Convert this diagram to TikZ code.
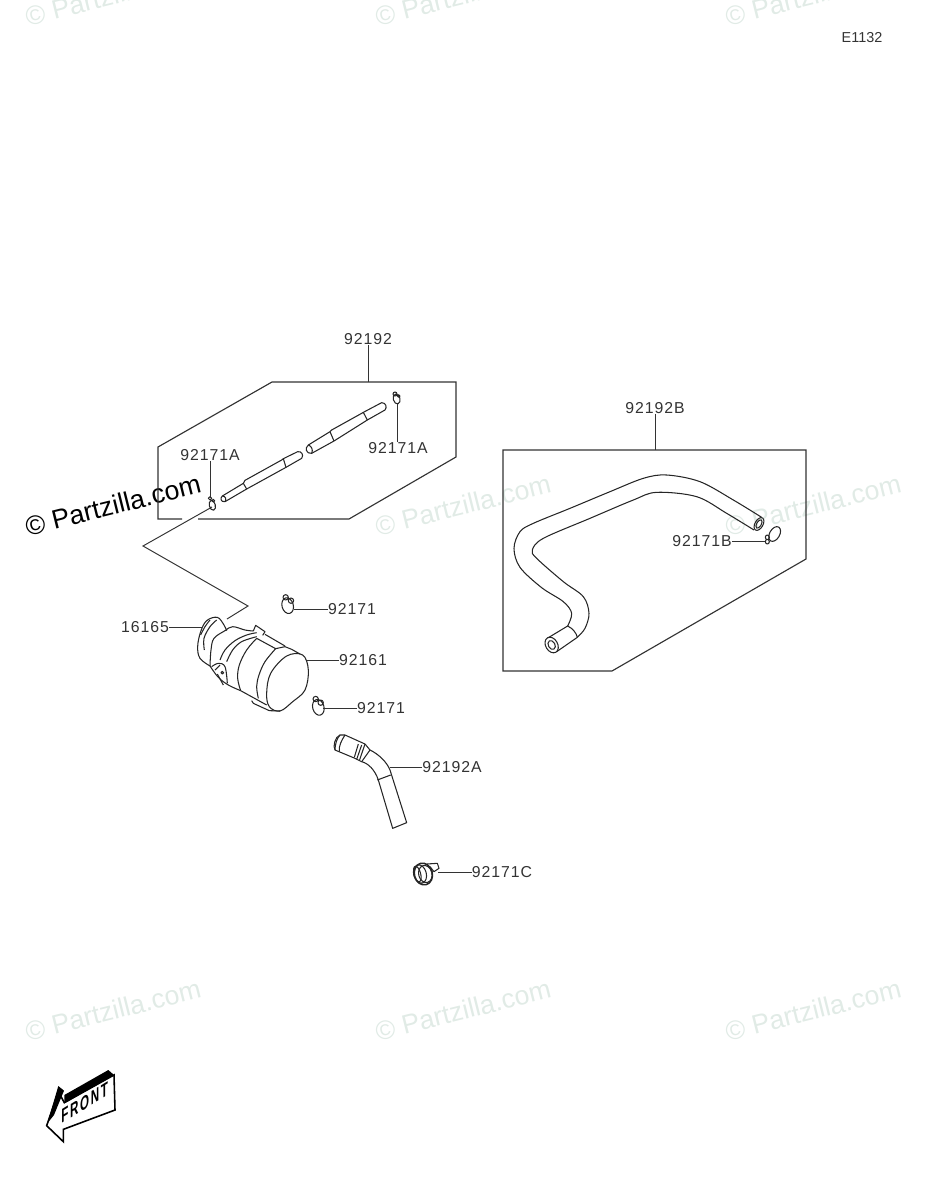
\documentclass[tikz,border=0pt]{standalone}
\usepackage{fontspec}
\setmainfont{Liberation Sans}
\newfontfamily\lblfont[LetterSpace=6]{Liberation Sans}
\newfontfamily\frontfont[LetterSpace=14]{Liberation Sans}
\definecolor{markgray}{HTML}{E1EBE6}
\tikzset{
  part/.style={draw=black!85,line width=.6pt,fill=none,line join=round},
  frameline/.style={draw=black!80,line width=.65pt},
  leader/.style={draw=black!80,line width=.55pt},
  lbl/.style={inner sep=0pt,text=black!80,font=\lblfont\fontsize{9}{10}\selectfont},
  wmark/.style={rotate=14,inner sep=0pt,font=\fontsize{15.2}{16}\selectfont},
}
\begin{document}
\begin{tikzpicture}[x=.02cm,y=-.02cm]
\useasboundingbox (0,0) rectangle (928,1200);
% watermarks
\foreach \x/\y [count=\i] in {113/-5,463/-5,813/-5,463/505,813/505,113/1010,463/1010,813/1010}
\node[wmark,text=markgray] (wm\i) at (\x,\y) {© Partzilla.com};
\node[wmark,text=black] (wm0) at (113,505) {© Partzilla.com};
\node[lbl,font=\fontsize{8.2}{9}\selectfont] (sheet) at (862,38) {E1132};
% frame round the long hoses
\coordinate (fa) at (368,382);
\draw[frameline] (198,519) -- (349,519) -- (456,457) -- (456,382) -- (fa) -- (272,382) -- (158,447) -- (158,519) -- (182,519);
\node[lbl] (l92192) at (368,339) {92192};
\draw[leader] (l92192.south) -- (fa);
% second frame
\coordinate (fb) at (655,450);
\draw[frameline] (503,450) -- (806,450) -- (806,559) -- (612,671) -- (503,671) -- cycle;
\node[lbl] (l92192B) at (655,408) {92192B};
\draw[leader] (l92192B.south) -- (fb);
% long bent line
\coordinate (ca) at (212,507);
\coordinate (pa) at (227,619);
\draw[leader] (ca) -- (143,546) -- (248,606) -- (pa);
% short hose, two pieces
\begin{scope}[shift={(130,370)},scale=1/3]
\draw[part] (277,378) -- (340,340) -- (345,331) -- (455,270) -- (460,266) -- (503,245) .. controls (515,243) and (522,255) .. (515,265) -- (468,292) -- (350,357) -- (285,395) .. controls (272,397) and (270,384) .. (277,378);
\draw[part] (340,340) -- (350,357) (460,266) -- (468,292) (277,378) .. controls (287,378) and (290,388) .. (285,395);
\draw[part] (535,225) -- (600,185) -- (605,180) -- (695,130) -- (700,127) -- (755,98) .. controls (768,98) and (772,112) .. (765,120) -- (712,150) -- (612,213) -- (545,250) .. controls (530,252) and (522,235) .. (535,225);
\draw[part] (600,185) -- (612,213) (700,127) -- (712,150) (535,225) .. controls (545,228) and (550,240) .. (545,250);
\draw[part] (247,406) ellipse [x radius=9,y radius=15,rotate=15];
\draw[part] (240,385) circle (5) (250,392) circle (4);
\coordinate (cb) at (240,385);
\draw[part] (800,87) ellipse [x radius=10,y radius=15,rotate=15];
\draw[part] (795,72) circle (6) (806,78) circle (4);
\coordinate (cc) at (803,101);
\end{scope}
\node[lbl] (l92171Aa) at (210,455) {92171A};
\node[lbl] (l92171Ab) at (398,448) {92171A};
\draw[leader] (l92171Aa.south -| cb) -- (cb);
\draw[leader] (l92171Ab.north -| cc) -- (cc);
% pump
\begin{scope}[shift={(110,570)},scale=1/3]
\draw[part] plot[smooth cycle,tension=.6] coordinates {(470,370) (482,310) (530,258) (578,255) (595,300) (585,360) (548,395) (510,423) (478,410)};
\draw[part] plot[smooth,tension=.6] coordinates {(300,288) (270,265) (263,230) (272,185) (290,152) (322,142) (342,165) (350,182)};
\draw[part] plot[smooth,tension=.6] coordinates {(272,195) (285,170) (300,150)};
\draw[part] plot[smooth,tension=.6] coordinates {(283,240) (282,205) (300,170) (320,150)};
\draw[part] plot[smooth,tension=.6] coordinates {(300,288) (303,240) (312,205) (345,182) (368,170) (405,180) (430,183)};
\draw[part] (430,183) -- (437,166) -- (465,185) -- (458,196);
\draw[part] plot[smooth,tension=.6] coordinates {(330,270) (345,240) (375,212) (410,195) (440,188)};
\draw[part] plot[smooth,tension=.6] coordinates {(350,275) (368,240) (395,215) (440,200)};
\draw[part] (440,205) -- (497,236) -- (525,230) -- (545,238) -- (570,252);
\draw[part] (465,193) -- (525,228);
\draw[part] plot[smooth,tension=.6] coordinates {(440,205) (410,240) (388,285) (383,325) (392,362)};
\draw[part] plot[smooth,tension=.6] coordinates {(497,236) (465,275) (447,315) (440,350) (445,385)};
\draw[part] (392,362) -- (470,405) (425,392) -- (430,400) -- (478,422) -- (510,423);
\draw[part] plot[smooth,tension=.6] coordinates {(300,288) (325,322) (355,345) (392,362)};
\draw[part] plot[smooth,tension=.6] coordinates {(305,290) (325,280) (345,290) (352,340)};
\draw[part] (315,300) -- (330,285) (322,312) -- (340,345);
\draw[part] (337,308) circle (4);
\coordinate (pb) at (275,170);
\coordinate (pc) at (590,268);
\draw[part] (533,107) ellipse [x radius=17,y radius=24,rotate=15];
\draw[part] (527,82) circle (8) (543,92) circle (8);
\coordinate (cd) at (553,117);
\draw[part] (625,412) ellipse [x radius=17,y radius=24,rotate=15];
\draw[part] (617,387) circle (8) (632,398) circle (8);
\coordinate (ce) at (640,415);
\end{scope}
\node[lbl] (l16165) at (145,627) {16165};
\node[lbl] (l92161) at (363,660) {92161};
\node[lbl] (l92171a) at (352,609) {92171};
\node[lbl] (l92171b) at (381,708.5) {92171};
\draw[leader] (l16165.east) -- (l16165.east -| pb);
\draw[leader] (l92161.west) -- (l92161.west -| pc);
\draw[leader] (l92171a.west) -- (l92171a.west -| cd);
\draw[leader] (l92171b.west) -- (l92171b.west -| ce);
% bent hose
\begin{scope}[shift={(320,720)},scale=1/3]
\draw[part] (45,90) .. controls (38,80) and (45,50) .. (60,45) -- (75,45) -- (135,72) -- (150,90) .. controls (175,102) and (200,125) .. (210,150) -- (260,308) -- (218,325) -- (175,180) .. controls (165,150) and (145,130) .. (125,125) -- (105,115) -- cycle;
\draw[part] (60,45) .. controls (50,55) and (45,75) .. (45,90);
\draw[part] (75,45) .. controls (65,60) and (55,80) .. (58,95);
\draw[part] (115,72) -- (103,112) (125,75) -- (110,118) (135,72) -- (118,122) (150,90) -- (125,125);
\draw[part] (172,180) -- (212,165);
\coordinate (ha) at (210,140);
\draw[part,line width=.9pt] (310,462) ellipse [x radius=27,y radius=33,rotate=15];
\draw[part] (316,462) ellipse [x radius=20,y radius=26,rotate=15];
\draw[part] (300,462) ellipse [x radius=19,y radius=28,rotate=15];
\draw[part] (292,462) ellipse [x radius=10,y radius=24,rotate=15];
\draw[part] (320,432) -- (352,430) -- (357,445) -- (342,455) -- (330,440);
\coordinate (cf) at (355,455);
\end{scope}
\node[lbl] (l92192A) at (452,767) {92192A};
\node[lbl] (l92171C) at (502,872.5) {92171C};
\draw[leader] (l92192A.west) -- (l92192A.west -| ha);
\draw[leader] (l92171C.west) -- (l92171C.west -| cf);
% long hose
\begin{scope}[shift={(500,460)},scale=1/3]
\draw[part] plot[smooth,tension=.55] coordinates {(785,172) (700,120) (600,65) (500,45) (430,55) (330,95) (210,145) (100,190) (60,215) (42,265) (60,322) (125,383) (190,425) (215,460) (203,498)};
\draw[part] plot[smooth,tension=.55] coordinates {(762,210) (680,160) (590,110) (470,97) (400,120) (270,175) (130,235) (97,270) (110,295) (190,365) (250,410) (267,460) (255,505) (232,532)};
\draw[part] (145,533) -- (203,498) .. controls (218,505) and (230,520) .. (232,532) -- (170,575);
\draw[part] (155,555) ellipse [x radius=18,y radius=25,rotate=30];
\draw[part] (155,555) ellipse [x radius=10,y radius=14,rotate=30];
\draw[part] (777,192) ellipse [x radius=12,y radius=21,rotate=-30];
\draw[part] (777,192) ellipse [x radius=7,y radius=14,rotate=-30];
\draw[part] (824,222) ellipse [x radius=15,y radius=24,rotate=-30];
\draw[part] (802,232) ellipse [x radius=6,y radius=7] (802,245) ellipse [x radius=6,y radius=7];
\coordinate (cg) at (795,243);
\end{scope}
\node[lbl] (l92171B) at (702,541.5) {92171B};
\draw[leader] (l92171B.east) -- (l92171B.east -| cg);
% front arrow
\begin{scope}[shift={(30,1060)},scale=1/3]
\draw[black,line width=.9pt,fill=white] (50,197) -- (85,95) -- (103,128) -- (252,45) -- (255,150) -- (100,208) -- (100,245) -- cycle;
\fill[black] (52,190) -- (85,78) -- (102,92) -- (72,165) -- cycle;
\fill[black] (103,105) -- (235,30) -- (252,45) -- (103,130) -- cycle;
\coordinate (ft) at (164,128);
\end{scope}
\node[transform shape,yslant=.62,yscale=1.7,inner sep=0pt,font=\frontfont\bfseries\fontsize{6.6}{8}\selectfont] (front) at (ft) {FRONT};
\end{tikzpicture}
\end{document}
